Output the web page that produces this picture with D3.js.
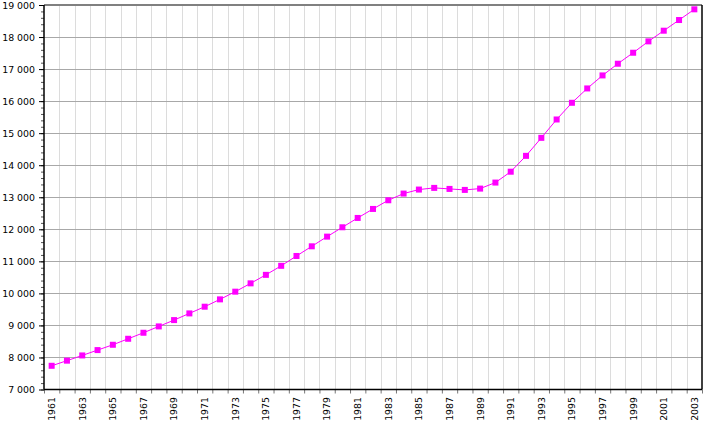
<!DOCTYPE html>
<html lang="en">
<head>
    <meta charset="UTF-8">
    <script src="https://d3js.org/d3.v7.min.js"></script>
    <title>Population 1961-2003</title>
    <style>
        body { margin: 0; background: #fff; }
        text { font-family: "DejaVu Sans", Verdana, sans-serif; font-size: 9.4px; fill: #000; }
    </style>
</head>
<body>
    <script>
        var w = 725;
        var h = 426;

        // years and values (thousands)
        var years = d3.range(1961, 2004);
        var population = [7740, 7900, 8063, 8230, 8396, 8583, 8771, 8969, 9166, 9375,
                          9584, 9813, 10053, 10313, 10578, 10860, 11167, 11469, 11771, 12063,
                          12354, 12635, 12906, 13115, 13240, 13292, 13260, 13229, 13270, 13458,
                          13797, 14292, 14854, 15427, 15948, 16396, 16802, 17167, 17510, 17865,
                          18198, 18531, 18865];
        var yTicks = [7000, 8000, 9000, 10000, 11000, 12000, 13000, 14000, 15000, 16000, 17000, 18000, 19000];
        var xLabels = d3.range(1961, 2004, 2);

        var mLeft = 44, mRight = 702, mTop = 5, mBottom = 389.5;

        var x = d3.scaleLinear().domain([1960.5, 2003.5]).range([mLeft, mRight]);
        var y = d3.scaleLinear().domain([7000, 19000]).range([mBottom, mTop]);

        var fmt = function(d) { return d3.format(",")(d).replace(",", " "); };

        var svg = d3.select("body")
                    .append("svg")
                    .attr("width", w)
                    .attr("height", h);

        // vertical grid at year boundaries
        svg.append("g")
            .selectAll("line")
            .data(d3.range(1961.5, 2003.5, 1))
            .enter()
            .append("line")
            .attr("x1", function(d) { return Math.round(x(d)) + 0.5; })
            .attr("x2", function(d) { return Math.round(x(d)) + 0.5; })
            .attr("y1", mTop)
            .attr("y2", mBottom)
            .attr("stroke", "#dcdcdc")
            .attr("stroke-width", 1);

        // horizontal grid
        svg.append("g")
            .selectAll("line")
            .data(yTicks.slice(1, -1))
            .enter()
            .append("line")
            .attr("x1", mLeft)
            .attr("x2", mRight)
            .attr("y1", function(d) { return Math.round(y(d)) + 0.5; })
            .attr("y2", function(d) { return Math.round(y(d)) + 0.5; })
            .attr("stroke", "#a8a8a8")
            .attr("stroke-width", 1);

        // y axis with minor ticks
        var yMinor = d3.axisLeft(y)
                        .tickValues(d3.range(7000, 19001, 200))
                        .tickSize(3)
                        .tickFormat("");
        svg.append("g")
            .attr("transform", "translate(" + mLeft + ",0)")
            .call(yMinor)
            .call(function(g) { g.select(".domain").remove(); })
            .selectAll("line").attr("stroke", "#555");

        var yAxis = d3.axisLeft(y)
                        .tickValues(yTicks)
                        .tickSize(5)
                        .tickPadding(4)
                        .tickFormat(fmt);
        var yg = svg.append("g")
            .attr("transform", "translate(" + mLeft + ",0)")
            .call(yAxis);
        yg.select(".domain").remove();
        yg.selectAll("text").style("font-family", "'DejaVu Sans', Verdana, sans-serif").style("font-size", "9.4px");

        // x axis ticks at year boundaries
        var xAxis = d3.axisBottom(x)
                        .tickValues(d3.range(1960.5, 2004, 1))
                        .tickSize(4)
                        .tickFormat("");
        svg.append("g")
            .attr("transform", "translate(0," + mBottom + ")")
            .call(xAxis)
            .call(function(g) { g.select(".domain").remove(); })
            .selectAll("line").attr("stroke", "#777");

        // x labels
        svg.append("g")
            .selectAll("text")
            .data(xLabels)
            .enter()
            .append("text")
            .attr("transform", function(d) { return "translate(" + x(d) + ",397) rotate(-90)"; })
            .attr("text-anchor", "end")
            .attr("dy", "0.36em")
            .text(function(d) { return d; });

        // frame
        svg.append("line").attr("x1", mLeft).attr("x2", mRight).attr("y1", mTop).attr("y2", mTop)
            .attr("stroke", "#808080").attr("stroke-width", 2);
        svg.append("line").attr("x1", mRight).attr("x2", mRight).attr("y1", mTop).attr("y2", mBottom)
            .attr("stroke", "#000").attr("stroke-width", 1.5);
        svg.append("line").attr("x1", mLeft).attr("x2", mLeft).attr("y1", mTop).attr("y2", mBottom)
            .attr("stroke", "#000").attr("stroke-width", 1.5);
        svg.append("line").attr("x1", mLeft).attr("x2", mRight).attr("y1", mBottom).attr("y2", mBottom)
            .attr("stroke", "#000").attr("stroke-width", 1.5);

        // line and markers
        var data = years.map(function(d, i) { return [d, population[i]]; });
        var line = d3.line()
                    .x(function(d) { return x(d[0]); })
                    .y(function(d) { return y(d[1]); });

        svg.append("path")
            .datum(data)
            .attr("d", line)
            .attr("fill", "none")
            .attr("stroke", "#ff00ff")
            .attr("stroke-width", 1);

        svg.append("g")
            .selectAll("rect")
            .data(data)
            .enter()
            .append("rect")
            .attr("x", function(d) { return x(d[0]) - 3; })
            .attr("y", function(d) { return y(d[1]) - 3; })
            .attr("width", 6)
            .attr("height", 6)
            .attr("fill", "#ff00ff");
    </script>
</body>
</html>
